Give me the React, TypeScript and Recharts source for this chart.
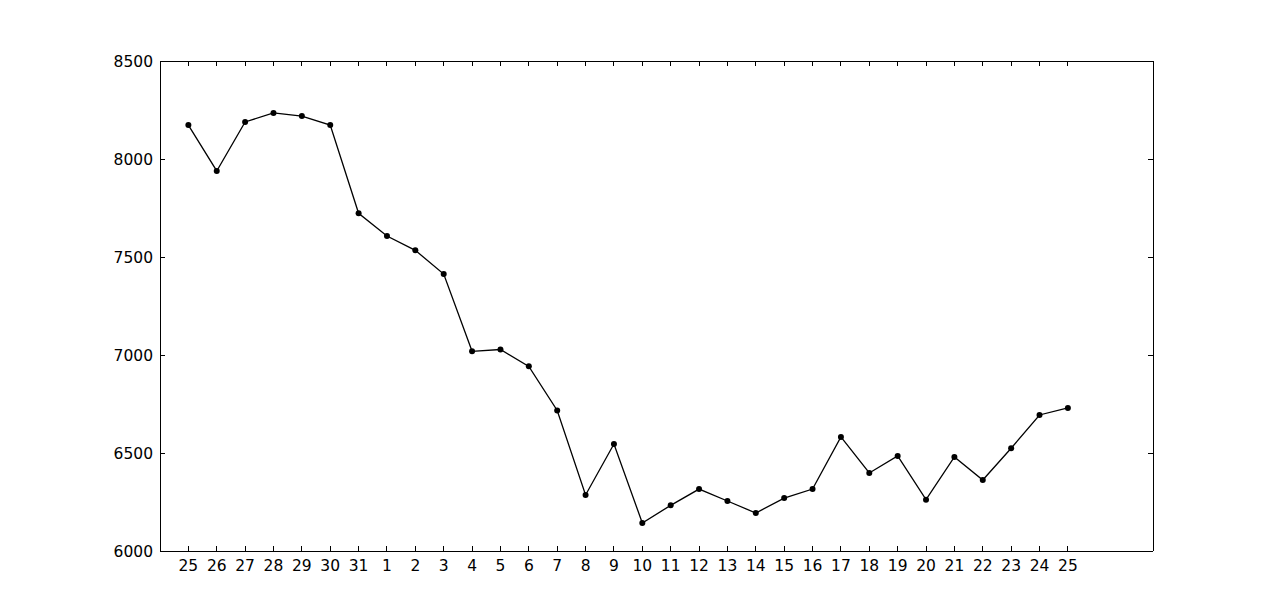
import { LineChart, Line, XAxis, YAxis } from "recharts";

// day-of-month labels, one per point
const days = [
  "25", "26", "27", "28", "29", "30", "31", "1", "2", "3", "4", "5", "6", "7", "8", "9",
  "10", "11", "12", "13", "14", "15", "16", "17", "18", "19", "20", "21", "22", "23", "24", "25",
];

const values = [
  8173, 7939, 8189, 8235, 8219, 8173, 7723, 7607, 7534, 7413, 7019, 7028, 6942, 6717, 6286, 6546,
  6143, 6233, 6316, 6255, 6194, 6270, 6316, 6582, 6398, 6485, 6262, 6480, 6362, 6524, 6694, 6730,
];

const yTicks = [6000, 6500, 7000, 7500, 8000, 8500];

const data = values.map((v, i) => ({ i, value: v }));
const xTicks = data.map((d) => d.i);

const FONT = "'DejaVu Sans', sans-serif";
const TICK_LEN = 5;

// chart box
const W = 1265;
const H = 596;
const MARGIN = { top: 43, right: 110, left: 92, bottom: 23 };
const Y_W = 60;
const Y_R_W = 10;
const PLOT_W = W - MARGIN.left - MARGIN.right - Y_W - Y_R_W;

// left labels + inward ticks on both sides of the frame
const YTick = (props: any) => {
  const { x, y, payload } = props;
  const xr = x + PLOT_W;
  return (
    <g>
      <path d={`M${x},${y}H${x + TICK_LEN}`} stroke="#000" strokeWidth={1} fill="none" shapeRendering="crispEdges" />
      <path d={`M${xr},${y}H${xr - TICK_LEN}`} stroke="#000" strokeWidth={1} fill="none" shapeRendering="crispEdges" />
      <text x={x - 7} y={y + 5.6} textAnchor="end" fontSize={15.5} fontFamily={FONT} fill="#000">
        {payload.value}
      </text>
    </g>
  );
};

const BottomTick = (props: any) => {
  const { x, y, payload } = props;
  return (
    <g>
      <path d={`M${x},${y}V${y - TICK_LEN}`} stroke="#000" strokeWidth={1} fill="none" shapeRendering="crispEdges" />
      <text x={x} y={y + 20} textAnchor="middle" fontSize={15.5} fontFamily={FONT} fill="#000">
        {days[payload.value]}
      </text>
    </g>
  );
};

const TopTick = (props: any) => {
  const { x, y } = props;
  return <path d={`M${x},${y}V${y + TICK_LEN}`} stroke="#000" strokeWidth={1} fill="none" shapeRendering="crispEdges" />;
};

export default function App() {
  return (
    <div style={{ width: W, height: H, background: "#fff" }}>
      <LineChart width={W} height={H} data={data} margin={MARGIN}>
        <XAxis
          xAxisId="b"
          dataKey="i"
          type="number"
          domain={[-1, 34]}
          ticks={xTicks}
          interval={0}
          height={30}
          tickSize={0}
          tickMargin={0}
          axisLine={{ stroke: "#000", shapeRendering: "crispEdges" }}
          tickLine={false}
          tick={<BottomTick />}
        />
        <XAxis
          xAxisId="t"
          orientation="top"
          dataKey="i"
          type="number"
          domain={[-1, 34]}
          ticks={xTicks}
          interval={0}
          height={10}
          tickSize={0}
          tickMargin={0}
          axisLine={{ stroke: "#000", shapeRendering: "crispEdges" }}
          tickLine={false}
          tick={<TopTick />}
        />
        <YAxis
          yAxisId="l"
          type="number"
          domain={[6000, 8500]}
          ticks={yTicks}
          interval={0}
          width={Y_W}
          tickSize={0}
          tickMargin={0}
          axisLine={{ stroke: "#000", shapeRendering: "crispEdges" }}
          tickLine={false}
          tick={<YTick />}
        />
        <YAxis
          yAxisId="r"
          orientation="right"
          type="number"
          domain={[6000, 8500]}
          width={Y_R_W}
          axisLine={{ stroke: "#000", shapeRendering: "crispEdges" }}
          tickLine={false}
          tick={false}
        />
        <Line
          xAxisId="b"
          yAxisId="l"
          type="linear"
          dataKey="value"
          stroke="#000"
          strokeWidth={1.3}
          dot={{ r: 3, fill: "#000", stroke: "#000", strokeWidth: 0 }}
          activeDot={false}
          isAnimationActive={false}
        />
      </LineChart>
    </div>
  );
}
